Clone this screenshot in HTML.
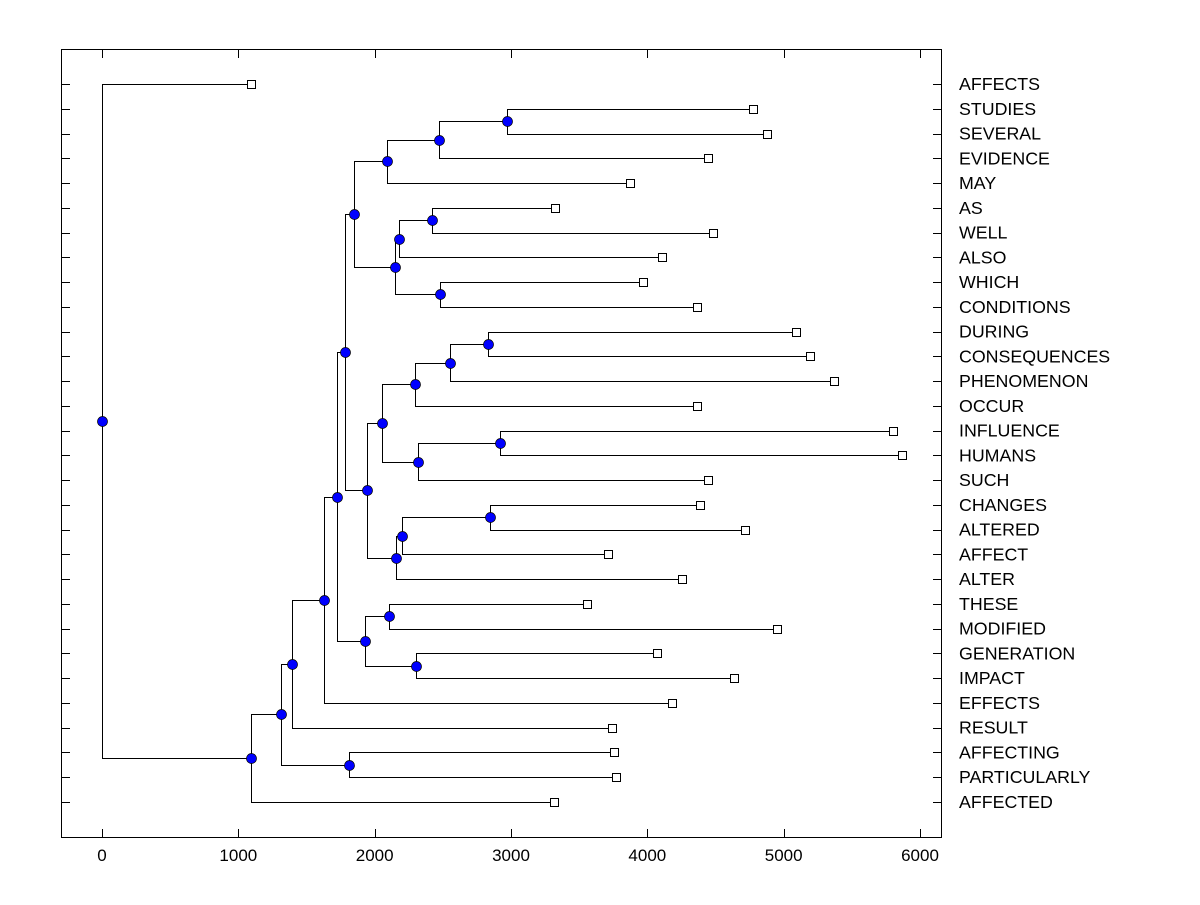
<!DOCTYPE html>
<html><head><meta charset="utf-8"><style>
html,body{margin:0;padding:0;background:#fff;}
svg text{font-family:"Liberation Sans",Arial,sans-serif;}
</style></head><body>
<svg id="chart" width="1200" height="900" xmlns="http://www.w3.org/2000/svg">
<rect x="61.5" y="49.5" width="880" height="788" fill="none" stroke="#000" stroke-width="1"/>
<g id="g"></g>
</svg>
<script>
const labels=["AFFECTS","STUDIES","SEVERAL","EVIDENCE","MAY","AS","WELL","ALSO","WHICH","CONDITIONS","DURING","CONSEQUENCES","PHENOMENON","OCCUR","INFLUENCE","HUMANS","SUCH","CHANGES","ALTERED","AFFECT","ALTER","THESE","MODIFIED","GENERATION","IMPACT","EFFECTS","RESULT","AFFECTING","PARTICULARLY","AFFECTED"];
const leafValues=[1093,4775,4878,4445,3873,3323,4482,4108,3968,4364,5091,5193,5369,4364,5802,5868,4445,4386,4716,3712,4254,3557,4951,4071,4636,4181,3741,3756,3770,3315];
const merges=[
[1,2,2971],["n0",3,2472],["n1",4,2090],
[5,6,2421],["n3",7,2178],[8,9,2479],["n4","n5",2149],["n2","n6",1848],
[10,11,2831],["n8",12,2553],["n9",13,2296],
[14,15,2919],["n11",16,2318],["n10","n12",2054],
[17,18,2846],["n14",19,2200],["n15",20,2157],["n13","n16",1944],
["n7","n17",1782],
[21,22,2105],[23,24,2303],["n19","n20",1929],
["n18","n21",1724],["n22",25,1628],["n23",26,1394],
[27,28,1812],["n24","n25",1313],["n26",29,1093],
[0,"n27",0]];
const xTicks=[0,1000,2000,3000,4000,5000,6000];

const X=v=>102+v*(818/6000);
const Y=i=>84+i*((802-84)/29);
const ns="http://www.w3.org/2000/svg";
const g=document.getElementById('g');
function mk(t,a){const e=document.createElementNS(ns,t);for(const k in a)e.setAttribute(k,a[k]);g.appendChild(e);return e;}

xTicks.forEach(v=>{
  const x=Math.round(X(v))+0.5;
  const t1=mk('line',{x1:x,x2:x,y1:837,y2:829,stroke:'#000'});
  
  
  const t2=mk('line',{x1:x,x2:x,y1:50,y2:58,stroke:'#000'});
  
  
  const tx=mk('text',{x:X(v),y:861,'text-anchor':'middle','font-size':'17'});
  tx.textContent=v;
  
  
});
labels.forEach((l,i)=>{
  const y=Math.round(Y(i))+0.5;
  const a=mk('line',{x1:62,x2:70,y1:y,y2:y,stroke:'#000'});
  
  
  const b=mk('line',{x1:933,x2:941,y1:y,y2:y,stroke:'#000'});
  
  
  const t=mk('text',{x:959,y:Y(i)+6,'font-size':'17.8'});
  t.textContent=l;
  
  
});

const pos={};
leafValues.forEach((v,i)=>{pos[i]={x:X(v),y:Y(i)};});
const dots=[];
merges.forEach((m,k)=>{
  const a=pos[m[0]],b=pos[m[1]],x=X(m[2]);
  const y=(a.y+b.y)/2;
  pos["n"+k]={x:x,y:y};
  const p=mk('path',{d:`M${a.x},${Math.round(a.y)+0.5}H${Math.round(x)+0.5}V${Math.round(b.y)+0.5}H${b.x}`,fill:'none',stroke:'#000','stroke-width':1});
  
  
  dots.push([x,y]);
});
labels.forEach((l,i)=>{
  const r=mk('rect',{x:Math.round(pos[i].x)-3.5,y:Math.round(pos[i].y)-3.5,width:8,height:8,fill:'#fff',stroke:'#000'});
  
  
});
dots.forEach(d=>{
  const c=mk('circle',{cx:Math.round(d[0])+0.5,cy:Math.round(d[1])+0.5,r:5,fill:'#0000ff',stroke:'#000','stroke-width':0.7});
  
  
});
</script>
</body></html>
